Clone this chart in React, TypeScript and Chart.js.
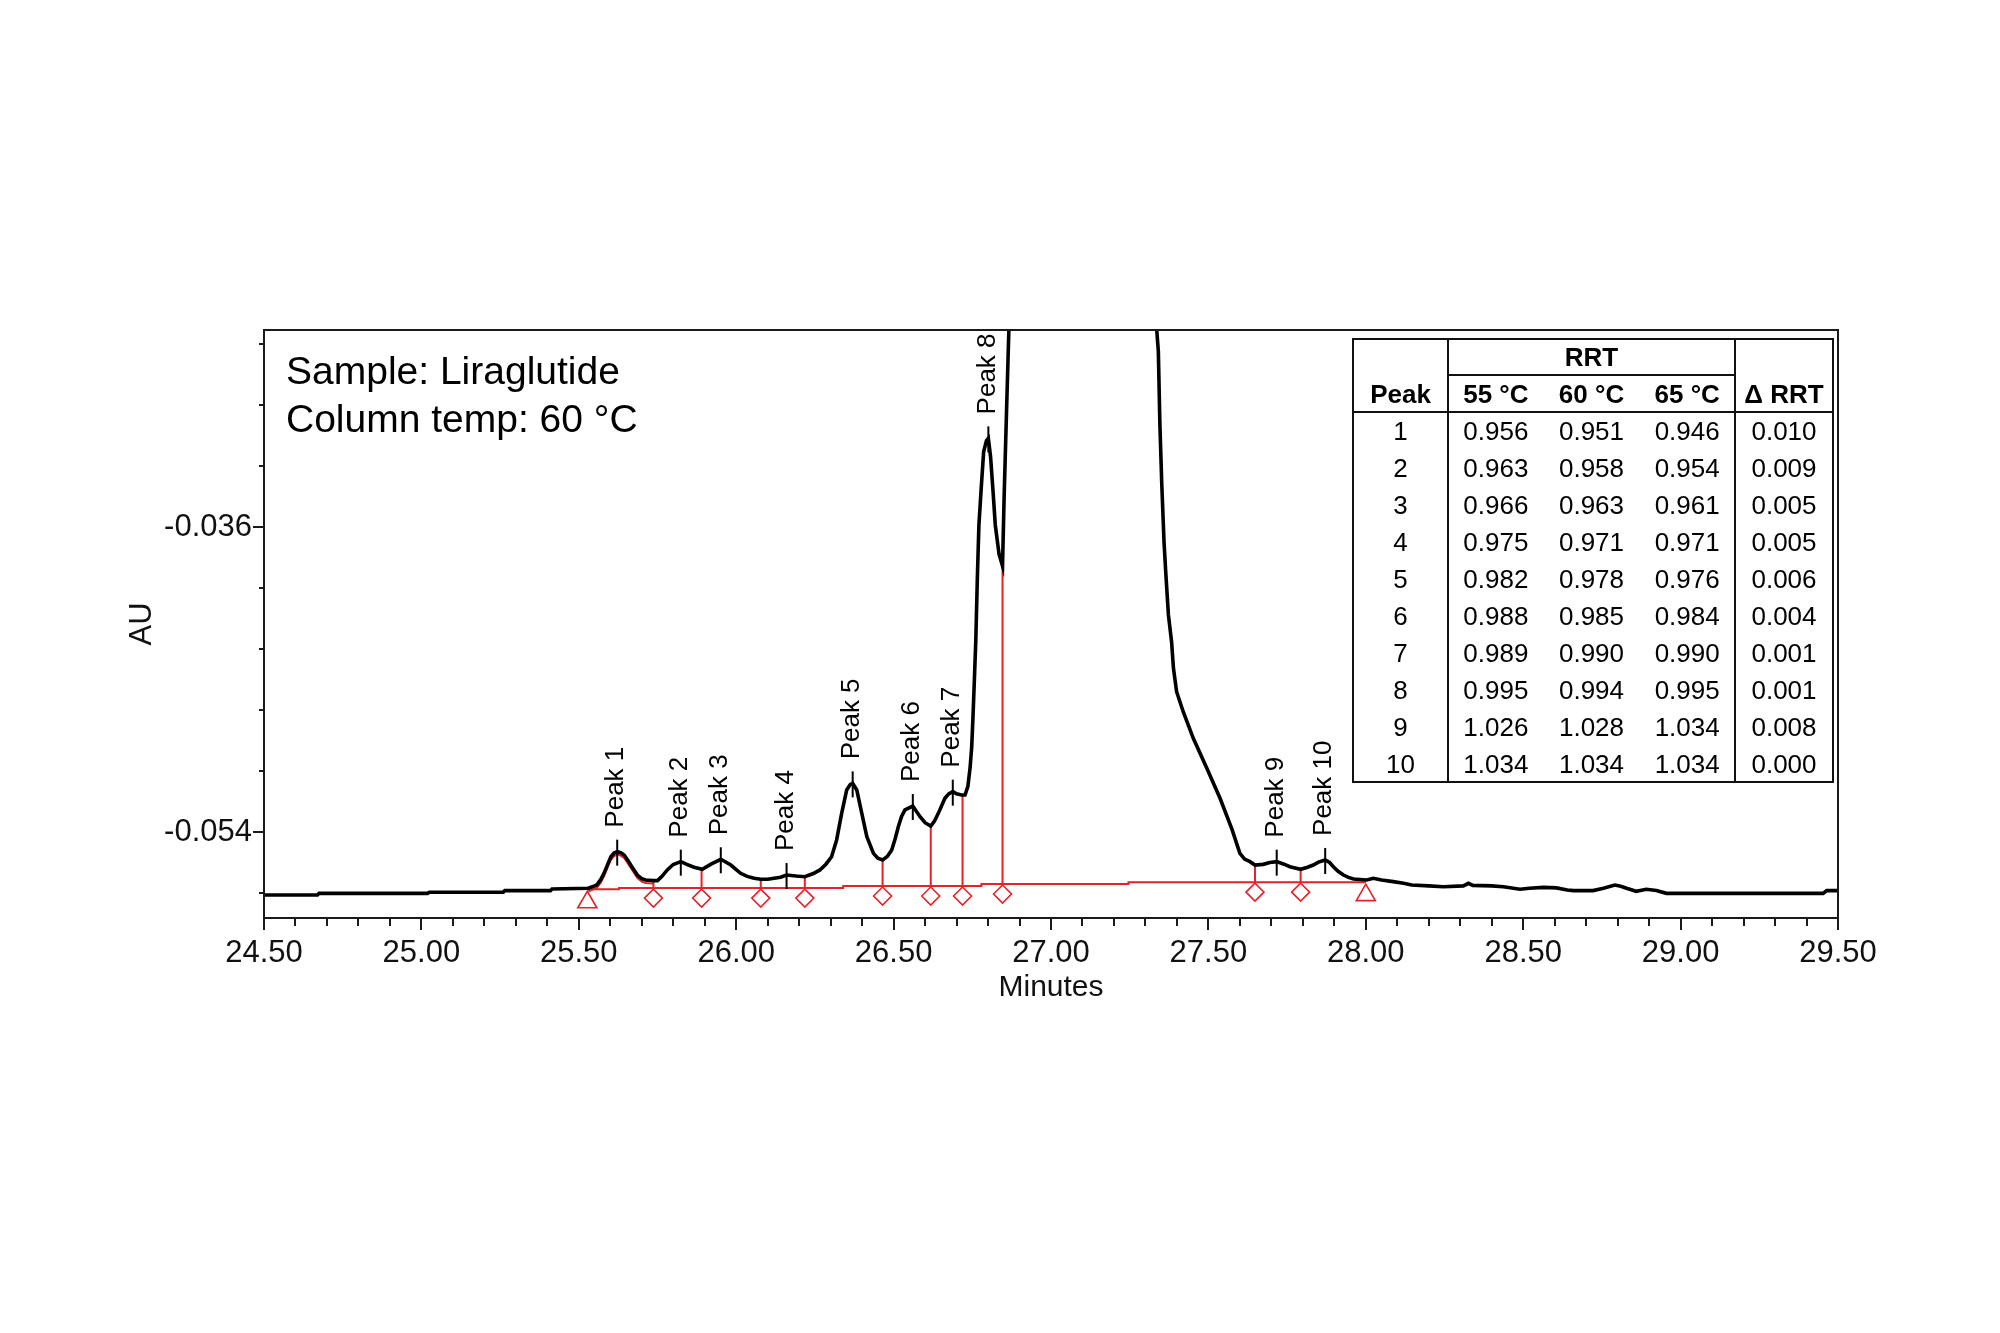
import React, { useEffect, useRef } from "react";
import { Chart, registerables } from "chart.js";

Chart.register(...registerables);

const FONT = "'Liberation Sans', Arial, Helvetica, sans-serif";
const RED = "#e4222a";
const INK = "#111111";

// ---- Axis limits ----
const xAxisMin = 24.5;
const xAxisMax = 29.5;
const yAxisMin = -0.059076;
const yAxisMax = -0.024373;
const xTickStep = 0.1;
const xLabelStep = 0.5;
const yTickStep = 0.0036;
const yLabelStep = 0.018;

// ---- Chromatogram trace: retention time (min) and absorbance (AU) ----
const traceTimes = [
  24.5, 24.67, 24.675, 25.02, 25.025, 25.26, 25.265, 25.41, 25.415, 25.53,
  25.545, 25.557, 25.57, 25.58, 25.592, 25.602, 25.612, 25.622, 25.633, 25.644,
  25.655, 25.665, 25.676, 25.686, 25.7, 25.712, 25.737, 25.75, 25.765, 25.781,
  25.8, 25.824, 25.845, 25.866, 25.892, 25.92, 25.951, 25.983, 26.0, 26.014,
  26.035, 26.057, 26.078, 26.1, 26.141, 26.16, 26.19, 26.218, 26.245, 26.266,
  26.285, 26.303, 26.319, 26.335, 26.351, 26.362, 26.37, 26.383, 26.399, 26.415,
  26.436, 26.45, 26.465, 26.48, 26.494, 26.505, 26.515, 26.525, 26.536, 26.561,
  26.584, 26.6, 26.618, 26.63, 26.642, 26.663, 26.675, 26.688, 26.7, 26.716,
  26.727, 26.736, 26.743, 26.748, 26.752, 26.756, 26.761, 26.766, 26.771, 26.779,
  26.786, 26.795, 26.801, 26.808, 26.816, 26.823, 26.835, 26.846, 26.851, 26.859,
  26.866, 26.875, 27.1, 27.33, 27.336, 27.341, 27.346, 27.352, 27.359, 27.365,
  27.373, 27.383, 27.389, 27.399, 27.42, 27.452, 27.495, 27.537, 27.575, 27.6,
  27.615, 27.632, 27.648, 27.674, 27.695, 27.717, 27.74, 27.759, 27.793, 27.815,
  27.833, 27.85, 27.871, 27.885, 27.897, 27.912, 27.929, 27.945, 27.961, 28.003,
  28.024, 28.05, 28.087, 28.12, 28.146, 28.2, 28.246, 28.31, 28.326, 28.34,
  28.4, 28.437, 28.49, 28.52, 28.564, 28.606, 28.64, 28.659, 28.722, 28.755,
  28.791, 28.81, 28.828, 28.859, 28.891, 28.923, 28.955, 29.22, 29.453, 29.464,
  29.5,
];
const traceValues = [
  -0.05772, -0.05772, -0.05762, -0.05762, -0.05756, -0.05756, -0.05746, -0.05746, -0.05736, -0.05732,
  -0.05722, -0.05713, -0.0568, -0.05644, -0.0559, -0.05546, -0.05524, -0.05516, -0.05522, -0.05536,
  -0.05565, -0.05595, -0.05626, -0.05654, -0.05675, -0.05683, -0.05687, -0.05687, -0.0566, -0.05624,
  -0.05592, -0.05575, -0.05592, -0.05608, -0.0562, -0.0559, -0.05561, -0.05595, -0.05622, -0.05644,
  -0.05662, -0.05673, -0.05679, -0.05679, -0.05667, -0.05654, -0.0566, -0.05664, -0.05645, -0.05624,
  -0.0559, -0.05546, -0.05447, -0.0529, -0.05152, -0.0512, -0.05113, -0.05152, -0.0529, -0.05428,
  -0.05526, -0.05555, -0.05565, -0.05545, -0.05506, -0.0544, -0.05369, -0.0531, -0.0527, -0.05247,
  -0.0531, -0.05345, -0.05365, -0.05335, -0.0529, -0.05201, -0.05175, -0.05162, -0.05175, -0.05182,
  -0.05182, -0.0513, -0.0502, -0.049, -0.04729, -0.04532, -0.04277, -0.03904, -0.03588, -0.03352,
  -0.03156, -0.0309, -0.03077, -0.03185, -0.03392, -0.03588, -0.0376, -0.0383, -0.03431, -0.029,
  -0.02447, -0.015, 0.06, -0.015, -0.0244, -0.02565, -0.03, -0.03352, -0.03687, -0.03883,
  -0.04119, -0.04277, -0.04434, -0.04572, -0.0469, -0.04847, -0.05024, -0.05201, -0.05385, -0.05526,
  -0.0556, -0.05575, -0.05595, -0.05591, -0.0558, -0.05575, -0.0559, -0.05605, -0.0562, -0.05608,
  -0.05595, -0.05578, -0.05565, -0.0558, -0.05605, -0.05632, -0.05654, -0.05668, -0.05677, -0.05683,
  -0.05673, -0.05683, -0.05693, -0.05703, -0.05713, -0.05718, -0.05723, -0.05718, -0.05703, -0.05715,
  -0.05718, -0.05723, -0.05738, -0.05732, -0.05727, -0.0573, -0.05742, -0.05746, -0.05746, -0.05732,
  -0.05713, -0.0572, -0.05732, -0.0575, -0.05738, -0.05745, -0.05762, -0.05762, -0.05762, -0.05746,
  -0.05746,
];

// ---- Integration baseline (red) ----
const baselineTimes = [25.527, 25.628, 25.628, 26.34, 26.34, 26.779, 26.779, 27.246, 27.246, 28.0];
const baselineValues = [-0.05738, -0.05738, -0.05731, -0.05731, -0.05719, -0.05719, -0.05707, -0.05707, -0.05696, -0.05696];

// ---- Valley drop lines (red) with diamond markers ----
const dropTimes = [25.737, 25.89, 26.078, 26.218, 26.465, 26.618, 26.719, 26.846, 27.648, 27.793];
const dropBase = [-0.05731, -0.05731, -0.05731, -0.05731, -0.05719, -0.05719, -0.05719, -0.05707, -0.05696, -0.05696];
const dropTops = [-0.05687, -0.0562, -0.05679, -0.05664, -0.05565, -0.05365, -0.05182, -0.0383, -0.05595, -0.0562];

// ---- Start / end of integration (triangles) ----
const triangleTimes = [25.527, 28.0];
const triangleBase = [-0.05738, -0.05696];

// ---- Peak apices ----
const peakNames = ["Peak 1", "Peak 2", "Peak 3", "Peak 4", "Peak 5", "Peak 6", "Peak 7", "Peak 8", "Peak 9", "Peak 10"];
const peakTimes = [25.622, 25.824, 25.951, 26.16, 26.37, 26.561, 26.688, 26.801, 27.717, 27.871];
const peakApex = [-0.05516, -0.05575, -0.05561, -0.05654, -0.05113, -0.05247, -0.05162, -0.03077, -0.05575, -0.05565];

// ---- Inset RRT table ----
const tablePeaks = [1, 2, 3, 4, 5, 6, 7, 8, 9, 10];
const rrtTemps = ["55 °C", "60 °C", "65 °C"];
const rrt55 = [0.956, 0.963, 0.966, 0.975, 0.982, 0.988, 0.989, 0.995, 1.026, 1.034];
const rrt60 = [0.951, 0.958, 0.963, 0.971, 0.978, 0.985, 0.99, 0.994, 1.028, 1.034];
const rrt65 = [0.946, 0.954, 0.961, 0.971, 0.976, 0.984, 0.99, 0.995, 1.034, 1.034];
const deltaRRT = [0.01, 0.009, 0.005, 0.005, 0.006, 0.004, 0.001, 0.001, 0.008, 0.0];

const annotationLines = ["Sample: Liraglutide", "Column temp: 60 °C"];
const xTitle = "Minutes";
const yTitle = "AU";

const isMultiple = (v: number, step: number) => Math.abs(v / step - Math.round(v / step)) < 1e-6;

const shiftPlugin = {
  id: "pixelShift",
  beforeDatasetDraw(chart: any, args: any) {
    const ds = chart.data.datasets[args.index];
    if (ds.pixelShift) {
      chart.ctx.save();
      chart.ctx.translate(ds.pixelShift[0], ds.pixelShift[1]);
    }
  },
  afterDatasetDraw(chart: any, args: any) {
    const ds = chart.data.datasets[args.index];
    if (ds.pixelShift) chart.ctx.restore();
  },
};

const decorPlugin = {
  id: "decor",
  afterDraw(chart: any) {
    const ctx: CanvasRenderingContext2D = chart.ctx;
    const area = chart.chartArea;
    const xs = chart.scales.x;
    const ys = chart.scales.y;
    const line = (x1: number, y1: number, x2: number, y2: number) => {
      ctx.beginPath();
      ctx.moveTo(x1, y1);
      ctx.lineTo(x2, y2);
      ctx.stroke();
    };
    ctx.save();
    // frame
    ctx.strokeStyle = "#1a1a1a";
    ctx.lineWidth = 2;
    ctx.strokeRect(area.left, area.top, area.right - area.left, area.bottom - area.top);
    // tick marks
    xs.ticks.forEach((t: any) => {
      const px = Math.round(xs.getPixelForValue(t.value));
      const len = isMultiple(t.value, xLabelStep) ? 12 : 8;
      line(px, area.bottom, px, area.bottom + len);
    });
    ys.ticks.forEach((t: any) => {
      const py = Math.round(ys.getPixelForValue(t.value));
      const len = isMultiple(t.value, yLabelStep) ? 11 : 5;
      line(area.left - len, py, area.left, py);
    });

    // peak apex markers and labels
    ctx.strokeStyle = "#000";
    ctx.lineWidth = 2;
    ctx.fillStyle = "#000";
    ctx.font = `26px ${FONT}`;
    ctx.textAlign = "left";
    ctx.textBaseline = "middle";
    peakTimes.forEach((t, i) => {
      const px = xs.getPixelForValue(t);
      const py = ys.getPixelForValue(peakApex[i]);
      line(px, py - 12, px, py + 14);
      ctx.save();
      ctx.translate(px - 1, py - 24);
      ctx.rotate(-Math.PI / 2);
      ctx.fillText(peakNames[i], 0, 0);
      ctx.restore();
    });

    // annotation
    ctx.fillStyle = "#000";
    ctx.font = `39px ${FONT}`;
    ctx.textAlign = "left";
    ctx.textBaseline = "middle";
    ctx.fillText(annotationLines[0], area.left + 22, area.top + 43);
    ctx.fillText(annotationLines[1], area.left + 22, area.top + 91);

    // axis titles
    ctx.fillStyle = INK;
    ctx.font = `30px ${FONT}`;
    ctx.textAlign = "center";
    ctx.fillText(xTitle, (area.left + area.right) / 2, area.bottom + 70);
    ctx.save();
    ctx.translate(area.left - 122, (area.top + area.bottom) / 2);
    ctx.rotate(-Math.PI / 2);
    ctx.font = `31px ${FONT}`;
    ctx.fillText(yTitle, 0, 0);
    ctx.restore();

    // table
    const x0 = area.right - 485;
    const x1 = x0 + 95;
    const x2 = x1 + 287;
    const x3 = x2 + 98;
    const y0 = area.top + 9;
    const y1 = y0 + 36;
    const y2 = y1 + 37;
    const rh = 37;
    const y3 = y2 + rh * tablePeaks.length;
    ctx.fillStyle = "#fff";
    ctx.fillRect(x0, y0, x3 - x0, y3 - y0);
    ctx.strokeStyle = "#111";
    ctx.lineWidth = 2;
    ctx.strokeRect(x0, y0, x3 - x0, y3 - y0);
    line(x1, y0, x1, y3);
    line(x2, y0, x2, y3);
    line(x1, y1, x2, y1);
    line(x0, y2, x3, y2);
    ctx.fillStyle = "#000";
    ctx.textAlign = "center";
    ctx.textBaseline = "middle";
    ctx.font = `bold 26px ${FONT}`;
    const sub = (x2 - x1) / 3;
    ctx.fillText("RRT", (x1 + x2) / 2, (y0 + y1) / 2 + 2);
    ctx.fillText("Peak", (x0 + x1) / 2, (y1 + y2) / 2 + 2);
    rrtTemps.forEach((s, k) => ctx.fillText(s, x1 + sub * (k + 0.5), (y1 + y2) / 2 + 2));
    ctx.fillText("Δ RRT", (x2 + x3) / 2, (y1 + y2) / 2 + 2);
    ctx.font = `26px ${FONT}`;
    tablePeaks.forEach((p, i) => {
      const cy = y2 + rh * (i + 0.5) + 2;
      ctx.fillText(String(p), (x0 + x1) / 2, cy);
      ctx.fillText(rrt55[i].toFixed(3), x1 + sub * 0.5, cy);
      ctx.fillText(rrt60[i].toFixed(3), x1 + sub * 1.5, cy);
      ctx.fillText(rrt65[i].toFixed(3), x1 + sub * 2.5, cy);
      ctx.fillText(deltaRRT[i].toFixed(3), (x2 + x3) / 2, cy);
    });
    ctx.restore();
  },
};

export default function App() {
  const ref = useRef<HTMLCanvasElement | null>(null);

  useEffect(() => {
    if (!ref.current) return;
    const trace = traceTimes.map((t, i) => ({ x: t, y: traceValues[i] }));
    const peak1Outline = trace.filter((p) => p.x >= 25.53 && p.x <= 25.74);
    const baseline = baselineTimes.map((t, i) => ({ x: t, y: baselineValues[i] }));
    const drops: any[] = [];
    dropTimes.forEach((t, i) => {
      drops.push({ x: t, y: dropBase[i] });
      drops.push({ x: t, y: dropTops[i] });
      drops.push({ x: t, y: null });
    });
    const diamonds = dropTimes.map((t, i) => ({ x: t, y: dropBase[i] }));
    const triangles = triangleTimes.map((t, i) => ({ x: t, y: triangleBase[i] }));

    const chart = new Chart(ref.current, {
      type: "line",
      data: {
        datasets: [
          {
            label: "Trace",
            data: trace,
            borderColor: "#000",
            borderWidth: 3.6,
            pointRadius: 0,
            tension: 0,
            order: 0,
          },
          {
            label: "Peak 1 fit",
            data: peak1Outline,
            borderColor: RED,
            borderWidth: 2,
            pointRadius: 0,
            tension: 0,
            order: 1,
            pixelShift: [0, 3],
          } as any,
          {
            label: "Baseline",
            data: baseline,
            borderColor: RED,
            borderWidth: 2,
            pointRadius: 0,
            tension: 0,
            order: 2,
          },
          {
            label: "Drops",
            data: drops,
            borderColor: RED,
            borderWidth: 2,
            pointRadius: 0,
            spanGaps: false,
            order: 2,
          },
          {
            label: "Valleys",
            data: diamonds,
            showLine: false,
            pointStyle: "rectRot",
            pointRadius: 9,
            pointBorderColor: RED,
            pointBackgroundColor: "rgba(255,255,255,0)",
            pointBorderWidth: 1.6,
            order: 2,
            pixelShift: [0, 10],
          } as any,
          {
            label: "Ends",
            data: triangles,
            showLine: false,
            pointStyle: "triangle",
            pointRadius: 11,
            pointBorderColor: RED,
            pointBackgroundColor: "rgba(255,255,255,0)",
            pointBorderWidth: 1.6,
            order: 2,
            pixelShift: [0, 13],
          } as any,
        ],
      },
      options: {
        animation: false,
        responsive: false,
        devicePixelRatio: 1,
        events: [],
        layout: { padding: { left: 0, right: 162, top: 330, bottom: 0 } },
        plugins: {
          legend: { display: false },
          tooltip: { enabled: false },
          title: { display: false },
        },
        scales: {
          x: {
            type: "linear",
            min: xAxisMin,
            max: xAxisMax,
            grid: { display: false, drawTicks: false },
            border: { display: false },
            ticks: {
              stepSize: xTickStep,
              autoSkip: false,
              maxRotation: 0,
              minRotation: 0,
              includeBounds: false,
              padding: 17,
              color: INK,
              font: { family: FONT, size: 31 },
              callback: (v: any) => (isMultiple(Number(v), xLabelStep) ? Number(v).toFixed(2) : ""),
            },
            afterFit: (s: any) => {
              s.height = 415;
            },
          },
          y: {
            type: "linear",
            min: yAxisMin,
            max: yAxisMax,
            grid: { display: false, drawTicks: false },
            border: { display: false },
            ticks: {
              stepSize: yTickStep,
              autoSkip: false,
              includeBounds: false,
              padding: 12,
              color: INK,
              font: { family: FONT, size: 31 },
              callback: (v: any) => (isMultiple(Number(v), yLabelStep) ? Number(v).toFixed(3) : ""),
            },
            afterFit: (s: any) => {
              s.width = 264;
            },
          },
        },
      } as any,
      plugins: [shiftPlugin, decorPlugin],
    });
    return () => chart.destroy();
  }, []);

  return (
    <div style={{ position: "fixed", left: 0, top: 0, width: 2000, height: 1333, background: "#fff" }}>
      <canvas ref={ref} width={2000} height={1333} style={{ width: 2000, height: 1333, display: "block" }} />
    </div>
  );
}
